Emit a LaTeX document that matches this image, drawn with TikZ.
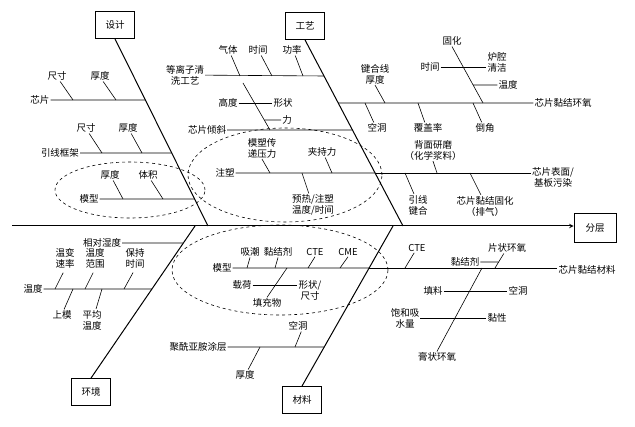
\documentclass[tikz,border=0pt]{standalone}
\usepackage{fontspec}
\setmainfont{Noto Sans CJK SC}
\usepackage{tikz}
\usetikzlibrary{calc, positioning, arrows}
\tikzstyle{box}=[draw, shape=rectangle, line width=0.8pt, minimum width=39pt, minimum height=27pt, inner sep=0pt, font=\fontsize{9.5}{11}\selectfont]
\tikzstyle{lbl}=[inner sep=1pt, align=center, font=\fontsize{9.5}{11}\selectfont]
\tikzstyle{bone}=[line width=1pt]
\tikzstyle{rib}=[line width=0.6pt]
\tikzstyle{zone}=[dashed, line width=0.6pt]
\tikzset{>=stealth}

\begin{document}
\begin{tikzpicture}[x=1pt, y=-1pt]
\useasboundingbox (0,0) rectangle (635,427);
% the heads
\node[box] (design) at (115,25) {设计};
\node[box] (craft) at (305,26) {工艺};
\node[box] (env) at (91,392) {环境};
\node[box] (mat) at (302,400) {材料};
\node[box, minimum width=42pt, minimum height=29pt] (fc) at (595,228) {分层};
% the spine and the bones
\coordinate (tail) at (12,226);
\coordinate (dS) at (208,226);
\coordinate (cS) at (403,226);
\coordinate (eS) at (195,226);
\coordinate (mS) at (393,226);
\draw[bone, ->] (tail) -- (fc.west |- tail);
\draw[bone] (design.south) -- (dS);
\draw[bone] (craft.south) -- (cS);
\draw[bone] (env.north) -- (eS);
\draw[bone] (mat.north) -- (mS);
% the points on the bones
\coordinate (d1) at (intersection of design.south--dS and 0,100--1,100);
\coordinate (d2) at (intersection of design.south--dS and 0,153--1,153);
\coordinate (d3) at (intersection of design.south--dS and 0,199--1,199);
\coordinate (c1) at (intersection of craft.south--cS and 0,76--1,76);
\coordinate (c2) at (intersection of craft.south--cS and 0,130--1,130);
\coordinate (c3) at (intersection of craft.south--cS and 0,173--1,173);
\coordinate (c4) at (intersection of craft.south--cS and 0,103--1,103);
\coordinate (e1) at (intersection of env.north--eS and 0,243--1,243);
\coordinate (e2) at (intersection of env.north--eS and 0,289--1,289);
\coordinate (m1) at (intersection of mat.north--mS and 0,268--1,268);
\coordinate (m2) at (intersection of mat.north--mS and 0,347--1,347);

% design: chip, lead frame, mold
\node[lbl] (chip) at (40,100) {芯片};
\node[lbl] (chipSize) at (57,76) {尺寸};
\node[lbl] (chipThk) at (100,76) {厚度};
\node[lbl] (frame) at (60,153) {引线框架};
\node[lbl] (frameSize) at (86,128) {尺寸};
\node[lbl] (frameThk) at (128,128) {厚度};
\node[lbl] (mold) at (89,199) {模型};
\node[lbl] (moldThk) at (110,175) {厚度};
\node[lbl] (moldVol) at (148,175) {体积};
\coordinate (d1a) at (73,100);
\coordinate (d1b) at (116,100);
\coordinate (d2a) at (102,153);
\coordinate (d2b) at (142,153);
\coordinate (d3a) at (123,199);
\coordinate (d3b) at (163,199);
\draw[rib] (chip) -- (d1);
\draw[rib] (chipSize.-60) -- (d1a);
\draw[rib] (chipThk.-60) -- (d1b);
\draw[rib] (frame) -- (d2);
\draw[rib] (frameSize.-60) -- (d2a);
\draw[rib] (frameThk.-60) -- (d2b);
\draw[rib] (mold) -- (d3);
\draw[rib] (moldThk.-60) -- (d3a);
\draw[rib] (moldVol.-60) -- (d3b);
\draw[zone] (130,190) ellipse [x radius=75pt, y radius=28pt];

% craft: plasma, chip tilt, molding
\node[lbl] (plasma) at (185,75) {等离子清\\洗工艺};
\node[lbl] (gas) at (228,50) {气体};
\node[lbl] (time1) at (258,50) {时间};
\node[lbl] (power) at (292,50) {功率};
\node[lbl] (tilt) at (207,130) {芯片倾斜};
\node[lbl] (height) at (228,103) {高度};
\node[lbl] (shape) at (283,103) {形状};
\node[lbl] (force) at (287,120) {力};
\node[lbl] (inj) at (225,173) {注塑};
\node[lbl] (transfer) at (262,148) {模塑传\\递压力};
\node[lbl] (clamp) at (322,152) {夹持力};
\node[lbl] (preheat) at (313,205) {预热/注塑\\温度/时间};
\coordinate (c1a) at (240,76);
\coordinate (c1b) at (272,76);
\coordinate (c1c) at (303,76);
\coordinate (tiltTop) at (243,83);
\coordinate (c2a) at (270,130);
\coordinate (f1) at (intersection of tiltTop--c2a and 0,120--1,120);
\coordinate (c3a) at (270,173);
\coordinate (c3b) at (332,173);
\coordinate (c3c) at (302,173);
\draw[rib] (plasma) -- (c1);
\draw[rib] (gas.-60) -- (c1a);
\draw[rib] (time1.-60) -- (c1b);
\draw[rib] (power.-60) -- (c1c);
\draw[rib] (tilt) -- (c2);
\draw[rib] (tiltTop) -- (c2a);
\draw[rib] (height) -- (shape);
\draw[rib] (f1) -- (force);
\draw[rib] (inj) -- (c3);
\draw[rib] (transfer.south) -- (c3a);
\draw[rib] (clamp.-60) -- (c3b);
\draw[rib] (c3c) -- (preheat.110);
\draw[zone] (285,175) ellipse [x radius=97pt, y radius=47pt];

% right of craft: die attach epoxy, surface contamination
\node[lbl] (epoxy) at (563,103) {芯片黏结环氧};
\node[lbl] (bond) at (375,74) {键合线\\厚度};
\node[lbl] (cure) at (452,41) {固化};
\node[lbl] (time2) at (430,67) {时间};
\node[lbl] (oven) at (497,62) {炉腔\\清洁};
\node[lbl] (temp) at (508,85) {温度};
\node[lbl] (void1) at (377,128) {空洞};
\node[lbl] (cover) at (428,128) {覆盖率};
\node[lbl] (fillet) at (485,128) {倒角};
\node[lbl] (surf) at (553,177) {芯片表面/\\基板污染};
\node[lbl] (grind) at (433,150) {背面研磨\\（化学浆料）};
\node[lbl] (wire) at (418,205) {引线\\键合};
\node[lbl] (dacure) at (485,206) {芯片黏结固化\\（排气）};
\coordinate (c4a) at (385,103);
\coordinate (c4b) at (483,103);
\coordinate (t1) at (intersection of cure.south--c4b and 0,85--1,85);
\coordinate (c4c) at (365,103);
\coordinate (c4d) at (418,103);
\coordinate (c4e) at (473,103);
\coordinate (c3d) at (437,173);
\coordinate (c3e) at (405,173);
\coordinate (c3f) at (470,173);
\draw[rib] (c4) -- (epoxy);
\draw[rib] (bond.south) -- (c4a);
\draw[rib] (cure.south) -- (c4b);
\draw[rib] (time2) -- (time2 -| oven.west);
\draw[rib] (t1) -- (temp);
\draw[rib] (c4c) -- (void1.120);
\draw[rib] (c4d) -- (cover.120);
\draw[rib] (c4e) -- (fillet.120);
\draw[rib] (c3) -- (c3 -| surf.west);
\draw[rib] (grind.south) -- (c3d);
\draw[rib] (c3e) -- (wire.110);
\draw[rib] (c3f) -- (dacure.110);

% environment: humidity, temperature
\node[lbl] (humid) at (102,243) {相对湿度};
\node[lbl] (tempE) at (33,289) {温度};
\node[lbl] (rate) at (65,258) {温变\\速率};
\node[lbl] (range) at (95,258) {温度\\范围};
\node[lbl] (hold) at (135,258) {保持\\时间};
\node[lbl] (upper) at (62,315) {上模};
\node[lbl] (avg) at (92,320) {平均\\温度};
\coordinate (e2a) at (55,289);
\coordinate (e2b) at (85,289);
\coordinate (e2c) at (124,289);
\coordinate (e2d) at (73,289);
\coordinate (e2e) at (102,289);
\draw[rib] (humid) -- (e1);
\draw[rib] (tempE) -- (e2);
\draw[rib, shorten <=4pt] (rate.south) -- (e2a);
\draw[rib, shorten <=4pt] (range.south) -- (e2b);
\draw[rib, shorten <=4pt] (hold.south) -- (e2c);
\draw[rib] (e2d) -- (upper.70);
\draw[rib] (e2e) -- (avg.70);

% material: mold compound, polyimide
\node[lbl] (moldM) at (222,268) {模型};
\node[lbl] (moist) at (250,252) {吸潮};
\node[lbl] (adhM) at (278,252) {黏结剂};
\node[lbl] (cteM) at (315,252) {CTE};
\node[lbl] (cme) at (348,252) {CME};
\node[lbl] (filler) at (267,303) {填充物};
\node[lbl] (load) at (242,285) {载荷};
\node[lbl] (size) at (310,290) {形状/\\尺寸};
\node[lbl] (pi) at (198,347) {聚酰亚胺涂层};
\node[lbl] (void2) at (298,326) {空洞};
\node[lbl] (piThk) at (245,375) {厚度};
\coordinate (m1a) at (247,268);
\coordinate (m1b) at (275,268);
\coordinate (m1c) at (308,268);
\coordinate (m1d) at (340,268);
\coordinate (m1e) at (287,268);
\coordinate (m2a) at (295,347);
\coordinate (m2b) at (260,347);
\draw[rib] (moldM) -- (m1);
\draw[rib] (moist.south) -- (m1a);
\draw[rib] (adhM.south) -- (m1b);
\draw[rib] (cteM.south) -- (m1c);
\draw[rib] (cme.south) -- (m1d);
\draw[rib] (m1e) -- (filler.north);
\draw[rib] (load) -- (load -| size.west);
\draw[rib] (pi) -- (m2);
\draw[rib] (void2.-60) -- (m2a);
\draw[rib] (m2b) -- (piThk.60);
\draw[zone] (280,270) ellipse [x radius=108pt, y radius=45pt];

% right of material: die attach material
\node[lbl] (dieMat) at (587,270) {芯片黏结材料};
\node[lbl] (cteR) at (417,248) {CTE};
\node[lbl] (flake) at (507,248) {片状环氧};
\node[lbl] (adhR) at (465,262) {黏结剂};
\node[lbl] (paste) at (437,357) {膏状环氧};
\node[lbl] (fillR) at (433,291) {填料};
\node[lbl] (void3) at (518,291) {空洞};
\node[lbl] (sat) at (405,318) {饱和吸\\水量};
\node[lbl] (visc) at (497,318) {黏性};
\coordinate (m1f) at (405,268);
\coordinate (m1g) at (495,268);
\coordinate (m1h) at (482,268);
\coordinate (a1) at (intersection of flake.-120--m1g and 0,262--1,262);
\draw[rib] (m1) -- (m1 -| dieMat.west);
\draw[rib] (cteR.-120) -- (m1f);
\draw[rib] (flake.-120) -- (m1g);
\draw[rib] (adhR) -- (a1);
\draw[rib] (m1h) -- (paste.north);
\draw[rib] (fillR) -- (void3);
\draw[rib] (sat) -- (visc);
\end{tikzpicture}
\end{document}
